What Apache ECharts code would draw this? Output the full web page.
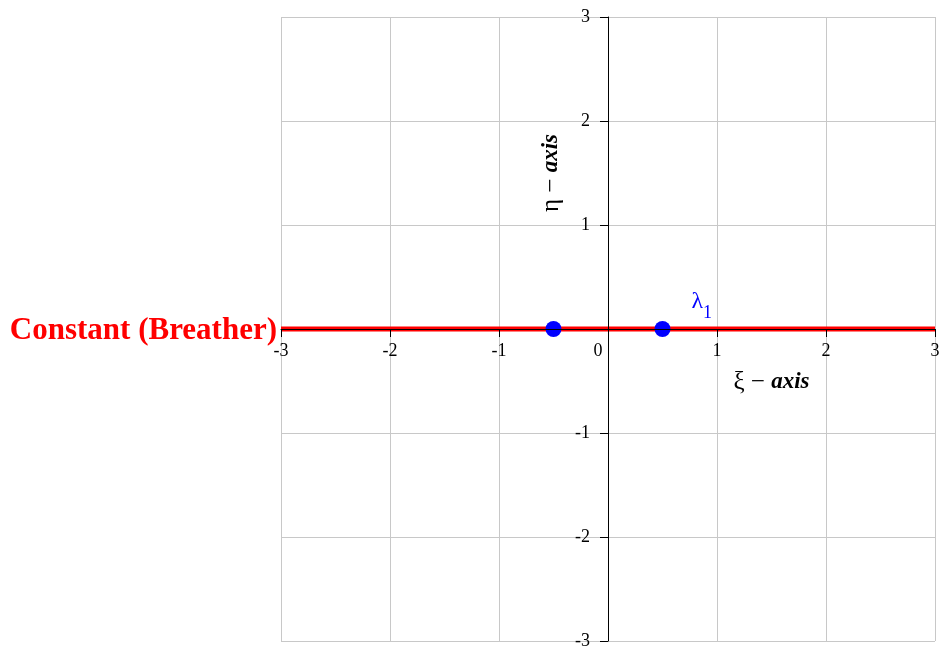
<!DOCTYPE html>
<html><head><meta charset="utf-8">
<script src="https://cdn.jsdelivr.net/npm/echarts@6/dist/echarts.min.js"></script>
<style>html,body{margin:0;padding:0;background:#fff}#c{width:946px;height:658px}</style>
</head><body><div id="c"></div>
<script>
// ---- data ----
const xRange = [-3, 3];
const yRange = [-3, 3];
const constantLine = [[-3, 0], [3, 0]];
const eigenPoints = [[-0.5, 0], [0.5, 0]];
const lambdaLabelPos = [0.86, 0.22];
const xiLabelPos = [1.5, -0.51];
const etaLabelPos = [-0.52, 1.5];
const seriesLabel = 'Constant (Breather)';

const FONT = '"Liberation Serif", "Times New Roman", serif';
const fmt = v => (v < 0 ? '-' + Math.abs(v) : String(v));

const W = 946, H = 658;
const G = { left: 281, right: 11, top: 17, bottom: 17 };
const plotW = W - G.left - G.right, plotH = H - G.top - G.bottom;
// offsets that place the axes on the zero lines of the other axis
const xAxisOffset = -plotH * (0 - yRange[0]) / (yRange[1] - yRange[0]);
const yAxisOffset = -plotW * (0 - xRange[0]) / (xRange[1] - xRange[0]);

const chart = echarts.init(document.getElementById('c'));
const gridRect = Object.assign({ containLabel: false, outerBoundsMode: 'none' }, G);

chart.setOption({
  animation: false,
  backgroundColor: '#fff',
  grid: [Object.assign({}, gridRect), Object.assign({}, gridRect)],
  xAxis: [
    { gridIndex: 0, type: 'value', min: xRange[0], max: xRange[1], interval: 1,
      axisLine: { show: false }, axisTick: { show: false }, axisLabel: { show: false },
      splitLine: { show: true, lineStyle: { color: '#c8c8c8', width: 1 } }, z: 0 },
    { gridIndex: 1, type: 'value', position: 'bottom', offset: xAxisOffset,
      min: xRange[0], max: xRange[1], interval: 1, zlevel: 1, z: 10,
      axisLine: { show: true, onZero: false, lineStyle: { color: '#000', width: 1 } },
      axisTick: { show: true, length: 8, lineStyle: { color: '#000', width: 1 } },
      splitLine: { show: false },
      axisLabel: { show: true, color: '#000', fontFamily: FONT, fontSize: 18, margin: 13,
        showMinLabel: true, showMaxLabel: true,
        formatter: v => v === 0 ? '{z|0}' : fmt(v),
        rich: { z: { padding: [0, 20, 6, 0], fontFamily: FONT, fontSize: 18, color: '#000' } } } }
  ],
  yAxis: [
    { gridIndex: 0, type: 'value', min: yRange[0], max: yRange[1], interval: 1,
      axisLine: { show: false }, axisTick: { show: false }, axisLabel: { show: false },
      splitLine: { show: true, lineStyle: { color: '#c8c8c8', width: 1 } }, z: 0 },
    { gridIndex: 1, type: 'value', position: 'left', offset: yAxisOffset,
      min: yRange[0], max: yRange[1], interval: 1, zlevel: 1, z: 10,
      axisLine: { show: true, onZero: false, lineStyle: { color: '#000', width: 1 } },
      axisTick: { show: true, length: 8, lineStyle: { color: '#000', width: 1 } },
      splitLine: { show: false },
      axisLabel: { show: true, color: '#000', fontFamily: FONT, fontSize: 18, margin: 18,
        showMinLabel: true, showMaxLabel: true,
        formatter: v => v === 0 ? '' : fmt(v) } }
  ],
  series: [
    { type: 'line', xAxisIndex: 1, yAxisIndex: 1, data: constantLine, symbol: 'none',
      lineStyle: { color: '#ff0000', width: 5, opacity: 1 }, z: 2, silent: true },
    { type: 'scatter', xAxisIndex: 1, yAxisIndex: 1, data: eigenPoints, symbol: 'circle', symbolSize: 16,
      itemStyle: { color: '#0000ff', opacity: 1 }, z: 3, silent: true },
    { type: 'scatter', xAxisIndex: 1, yAxisIndex: 1, symbolSize: 0, z: 4, silent: true,
      itemStyle: { opacity: 1 },
      data: [
        { value: constantLine[0], label: { show: true, position: 'left', distance: 4, opacity: 1, offset: [0, 2],
            formatter: seriesLabel, color: '#ff0000', fontFamily: FONT, fontSize: 31, fontWeight: 'bold' } },
        { value: lambdaLabelPos, label: { show: true, position: 'inside', opacity: 1,
            formatter: '{l|λ}{s|1}',
            rich: { l: { fontFamily: FONT, fontSize: 24, color: '#0000ff', verticalAlign: 'top' },
                    s: { fontFamily: FONT, fontSize: 18, color: '#0000ff', padding: [14, 0, 0, 0] } } } },
        { value: xiLabelPos, label: { show: true, position: 'inside', opacity: 1,
            formatter: '{r|ξ − }{b|axis}',
            rich: { r: { fontFamily: FONT, fontSize: 25, color: '#000' },
                    b: { fontFamily: FONT, fontSize: 23, color: '#000', fontWeight: 'bold', fontStyle: 'italic' } } } },
        { value: etaLabelPos, label: { show: true, position: 'inside', rotate: 90, opacity: 1,
            formatter: '{r|η − }{b|axis}',
            rich: { r: { fontFamily: FONT, fontSize: 25, color: '#000' },
                    b: { fontFamily: FONT, fontSize: 23, color: '#000', fontWeight: 'bold', fontStyle: 'italic' } } } }
      ] }
  ]
});
</script>
</body></html>
